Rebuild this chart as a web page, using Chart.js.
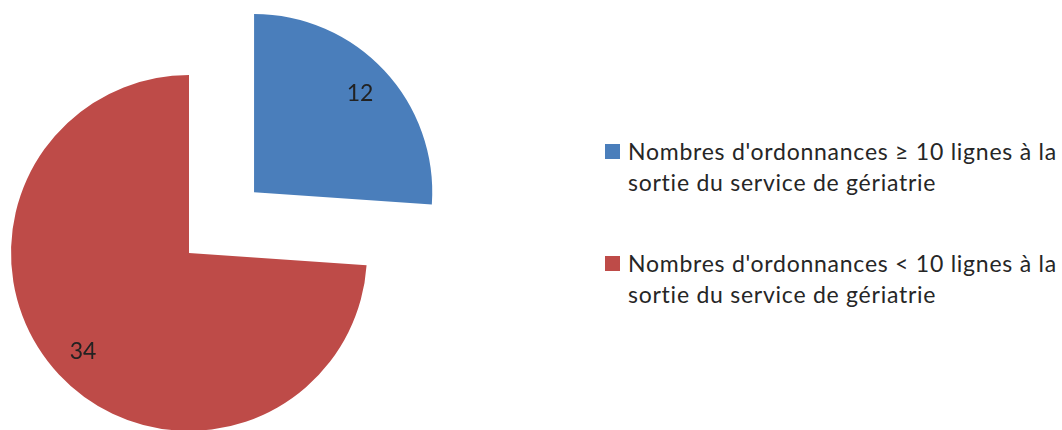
<!DOCTYPE html>
<html>
<head>
<meta charset="utf-8">
<script src="https://cdn.jsdelivr.net/npm/chart.js"></script>
<style>
  html, body { margin: 0; padding: 0; background: #ffffff; }
  #wrap { position: relative; width: 1062px; height: 430px; overflow: hidden; }
  #c { position: absolute; left: -211px; top: -147px; }
  .leg { position: absolute; left: 605px; font-family: Lato, "Open Sans", sans-serif; font-size: 23px; letter-spacing: 0.75px; line-height: 31px; color: #262626; white-space: nowrap; font-variant-ligatures: none; font-feature-settings: "liga" 0; }
  .leg .sw { position: absolute; left: 0; top: 8px; width: 15px; height: 15px; }
  .leg .tx { position: absolute; left: 23px; top: 0; }
  #err { position: absolute; left: 10px; top: 10px; color: red; font: 12px monospace; }
</style>
</head>
<body>
<div id="wrap">
  <canvas id="c" width="800" height="800"></canvas>
  <div id="legend"></div>
  <div id="err"></div>
</div>
<script>
const categories = [
  "Nombres d'ordonnances \u2265 10 lignes \u00e0 la sortie du service de g\u00e9riatrie",
  "Nombres d'ordonnances < 10 lignes \u00e0 la sortie du service de g\u00e9riatrie"
];
const legendLines = [
  ["Nombres d'ordonnances \u2265 10 lignes \u00e0 la", "sortie du service de g\u00e9riatrie"],
  ["Nombres d'ordonnances < 10 lignes \u00e0 la", "sortie du service de g\u00e9riatrie"]
];
const values = [12, 34];
const colors = ['#4A7EBB', '#BE4B48'];
const explode = [356, 0];

// HTML legend
const legTops = [136, 248];
const legendEl = document.getElementById('legend');
categories.forEach((c, i) => {
  const d = document.createElement('div');
  d.className = 'leg';
  d.style.top = legTops[i] + 'px';
  d.innerHTML = '<div class="sw" style="background:' + colors[i] + '"></div>' +
    '<div class="tx">' + legendLines[i].map(s => s.replace(/</g, '&lt;')).join('<br>') + '</div>';
  legendEl.appendChild(d);
});

const labelPlugin = {
  id: 'sliceLabels',
  afterDatasetsDraw(chart) {
    const ctx = chart.ctx;
    const meta = chart.getDatasetMeta(0);
    ctx.save();
    ctx.font = '23px Lato, "Open Sans", sans-serif';
    ctx.fillStyle = '#222222';
    ctx.textAlign = 'center';
    ctx.textBaseline = 'middle';
    meta.data.forEach((arc, i) => {
      const mid = (arc.startAngle + arc.endAngle) / 2;
      const off = (arc.options.offset || 0) / 4;
      const r = arc.outerRadius * 0.815;
      const x = arc.x + Math.cos(mid) * (off + r);
      const y = arc.y + Math.sin(mid) * (off + r);
      ctx.fillText(String(chart.data.datasets[0].data[i]), x, y);
    });
    ctx.restore();
  }
};

try {
  new Chart(document.getElementById('c'), {
    type: 'pie',
    data: {
      labels: categories,
      datasets: [{
        data: values,
        backgroundColor: colors,
        borderWidth: 0,
        offset: explode,
        hoverOffset: 0
      }]
    },
    options: {
      responsive: false,
      animation: false,
      radius: 178,
      layout: { padding: 0 },
      plugins: {
        legend: { display: false },
        tooltip: { enabled: false }
      },
      events: []
    },
    plugins: [labelPlugin]
  });
} catch (e) {
  document.getElementById('err').textContent = String(e);
}
</script>
</body>
</html>
